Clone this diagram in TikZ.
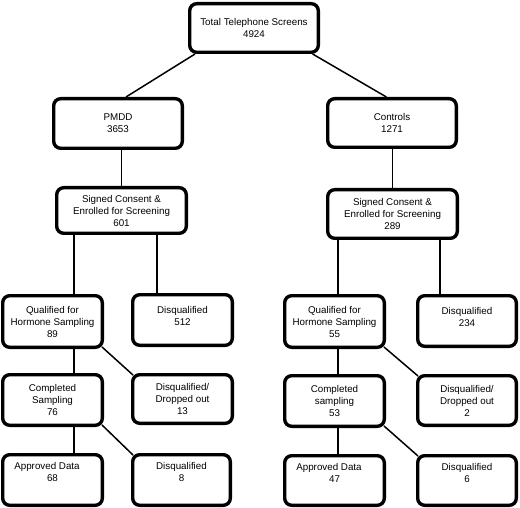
\documentclass[tikz,border=0pt]{standalone}
\usepackage{fontspec}
\setmainfont{Liberation Sans}
\usetikzlibrary{backgrounds}
\begin{document}
\begin{tikzpicture}[x=1pt,y=-1pt,
  box/.style={draw=black, fill=white, line width=3.4pt, rounded corners=7pt,
    align=center, inner sep=0pt, font=\fontsize{9.8}{12}\selectfont},
  link/.style={draw=black, line width=1.5pt}]
\useasboundingbox (0,0) rectangle (520,508);
% level 1
\node[box, minimum width=128.6pt, minimum height=48.6pt] (top) at (254,28) {Total Telephone Screens\\4924};
% level 2
\node[box, minimum width=128.6pt, minimum height=49.6pt] (pmdd) at (118,123.5) {PMDD\\3653};
\node[box, minimum width=128.6pt, minimum height=48.6pt] (ctrl) at (392,123) {Controls\\1271};
% level 3
\node[box, minimum width=129.6pt, minimum height=45.6pt] (sigL) at (121.5,210.5) {Signed Consent \&\\Enrolled for Screening\\601};
\node[box, minimum width=129.6pt, minimum height=48.6pt] (sigR) at (392.5,214) {Signed Consent \&\\Enrolled for Screening\\289};
% level 4
\node[box, minimum width=99.6pt, minimum height=51.6pt] (qualL) at (52.5,321.5) {Qualified for\\Hormone Sampling\\89};
\node[box, minimum width=99.6pt, minimum height=50.6pt] (disqL) at (182.5,320) {Disqualified\\512\\[-4pt]\mbox{}};
\node[box, minimum width=99.6pt, minimum height=51.6pt] (qualR) at (334.5,321.5) {Qualified for\\Hormone Sampling\\55};
\node[box, minimum width=98.6pt, minimum height=50.6pt] (disqR) at (467,321) {Disqualified\\234\\[-4pt]\mbox{}};
% level 5
\node[box, minimum width=99.6pt, minimum height=50.6pt] (compL) at (52.5,400) {Completed\\Sampling\\76};
\node[box, minimum width=99.6pt, minimum height=48.6pt] (dropL) at (182.5,399) {Disqualified/\\Dropped out\\13};
\node[box, minimum width=99.6pt, minimum height=50.6pt] (compR) at (334.5,401) {Completed\\sampling\\53};
\node[box, minimum width=98.6pt, minimum height=49.6pt] (dropR) at (467,400.5) {Disqualified/\\Dropped out\\2};
% level 6
\node[box, minimum width=99.6pt, minimum height=50.6pt] (apprL) at (52.5,480) {Approved Data\hspace*{11pt}\\68\hspace*{11pt}\\[4pt]\mbox{}};
\node[box, minimum width=97.6pt, minimum height=50.6pt] (disq8) at (181.5,480) {Disqualified\\8\\[4pt]\mbox{}};
\node[box, minimum width=99.6pt, minimum height=49.6pt] (apprR) at (334.5,480.5) {Approved Data\hspace*{11pt}\\47\hspace*{11pt}\\[4pt]\mbox{}};
\node[box, minimum width=98.6pt, minimum height=49.6pt] (disq6) at (467,480.5) {Disqualified\\6\\[4pt]\mbox{}};
% helper coordinates
\coordinate (tl) at ([xshift=7pt]top.south west);
\coordinate (tr) at ([xshift=-7.4pt]top.south east);
\coordinate (pl) at ([xshift=8pt]pmdd.north);
\coordinate (cr) at ([xshift=-5.6pt]ctrl.north);
\coordinate (qLx) at ([xshift=21.5pt]qualL.north);
\coordinate (dLx) at ([xshift=-25.3pt]disqL.north);
\coordinate (qRx) at ([xshift=3.5pt]qualR.north);
\coordinate (dRx) at ([xshift=-27pt]disqR.north);
\begin{scope}[on background layer]
\draw[link] (tl) -- (pl);
\draw[link] (tr) -- (cr);
\draw[link] (sigL.north) -- (sigL.north |- pmdd.south);
\draw[link] (sigR.north) -- (sigR.north |- ctrl.south);
\draw[link] (qLx) -- (qLx |- sigL.south);
\draw[link] (dLx) -- (dLx |- sigL.south);
\draw[link] (qRx) -- (qRx |- sigR.south);
\draw[link] (dRx) -- (dRx |- sigR.south);
\draw[link] (qLx) -- (qLx |- compL.north);
\draw[link] (qLx |- compL.south) -- (qLx |- apprL.north);
\draw[link] (qRx |- qualR.south) -- (qRx |- compR.north);
\draw[link] (qRx |- compR.south) -- (qRx |- apprR.north);
\draw[link] ([shift={(-2pt,2pt)}]qualL.south east) -- ([shift={(2pt,-2pt)}]dropL.north west);
\draw[link] ([shift={(-2pt,2pt)}]compL.south east) -- ([shift={(2pt,-2pt)}]disq8.north west);
\draw[link] ([shift={(-2pt,2pt)}]qualR.south east) -- ([shift={(2pt,-2pt)}]dropR.north west);
\draw[link] ([shift={(-2pt,2pt)}]compR.south east) -- ([shift={(2pt,-2pt)}]disq6.north west);
\end{scope}
\end{tikzpicture}
\end{document}
